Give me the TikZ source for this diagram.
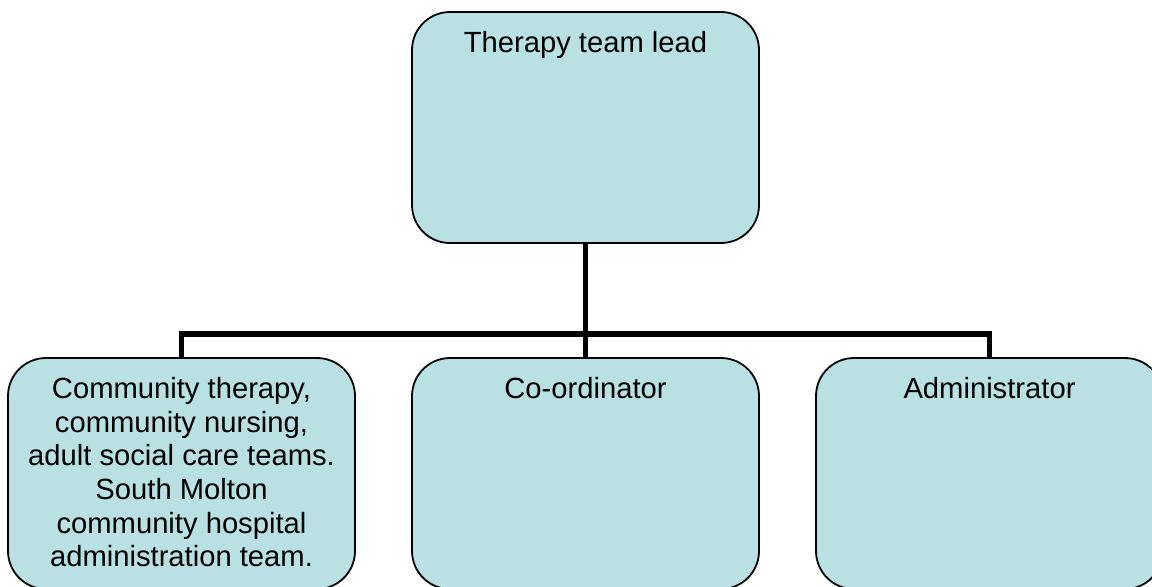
\documentclass[tikz,border=0pt]{standalone}
\usepackage{fontspec}
\setmainfont{Liberation Sans}
\usepackage{xcolor}
\usetikzlibrary{positioning,calc}
\definecolor{boxfill}{RGB}{185,224,227}

\begin{document}
\begin{tikzpicture}[x=0.5pt,y=-0.5pt,
  unit/.style={draw,fill=boxfill,line width=0.9pt,rounded corners=19pt,minimum width=173.5pt,minimum height=115.5pt},
  title/.style={anchor=north,align=center,inner sep=0pt,font=\fontsize{14.6}{16.8}\selectfont},
  link/.style={line width=2.6pt}]
  \useasboundingbox (0,0) rectangle (1152,586);

  \node[unit] (lead) at (585.5,127.5) {};
  \node[unit] (teams) at (181.5,473.5) {};
  \node[unit] (coord) at (585.5,473.5) {};
  \node[unit] (admin) at (989.5,473.5) {};

  \node[title] (leadtext) at ([yshift=-10pt]lead.north) {Therapy team lead};
  \node[title] (teamstext) at ([yshift=-10pt]teams.north) {Community therapy,\\community nursing,\\adult social care teams.\\South Molton\\community hospital\\administration team.};
  \node[title] (coordtext) at ([yshift=-10pt]coord.north) {Co-ordinator};
  \node[title] (admintext) at ([yshift=-10pt]admin.north) {Administrator};

  \coordinate (hub) at (585.5,334);
  \draw[link] (lead.south) -- (hub) -- (coord.north);
  \draw[link] (teams.north) |- (hub) -| (admin.north);
\end{tikzpicture}
\end{document}
